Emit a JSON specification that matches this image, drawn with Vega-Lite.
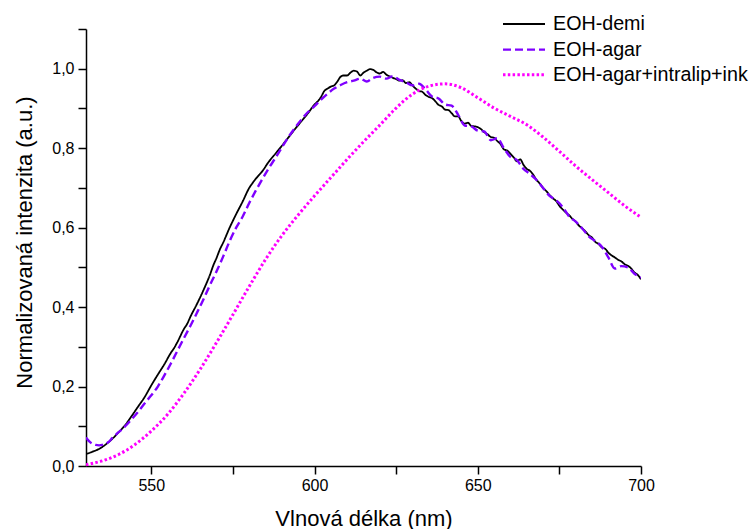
{
  "$schema": "https://vega.github.io/schema/vega-lite/v6.json",
  "autosize": "none",
  "padding": {"left": 86, "top": 29, "right": 113, "bottom": 63},
  "width": 555,
  "height": 437,
  "background": "white",
  "config": {
    "view": {"stroke": null},
    "font": "Liberation Sans",
    "axis": {"grid": false, "domainColor": "black", "domainWidth": 1.5, "tickColor": "black", "tickWidth": 1.5, "labelColor": "black", "titleColor": "black", "labelFont": "Liberation Sans", "titleFont": "Liberation Sans", "labelFontSize": 16, "titleFontSize": 22, "titleFontWeight": "normal"},
    "legend": {"orient": "none", "legendX": 426, "legendY": -16.5, "padding": 0, "labelFont": "Liberation Sans", "labelFontSize": 19.7, "labelColor": "black", "labelLimit": 0, "symbolType": "M-2,0H2", "symbolSize": 441, "labelOffset": 17, "rowPadding": 3.1}
  },
  "data": {"values": [
    {"series":"EOH-demi","wl":530,"val":0.030},{"series":"EOH-demi","wl":532,"val":0.036},{"series":"EOH-demi","wl":534,"val":0.043},{"series":"EOH-demi","wl":536,"val":0.054},{"series":"EOH-demi","wl":538,"val":0.068},{"series":"EOH-demi","wl":540,"val":0.085},{"series":"EOH-demi","wl":542,"val":0.103},{"series":"EOH-demi","wl":544,"val":0.126},{"series":"EOH-demi","wl":546,"val":0.150},{"series":"EOH-demi","wl":548,"val":0.174},{"series":"EOH-demi","wl":550,"val":0.203},{"series":"EOH-demi","wl":552,"val":0.230},{"series":"EOH-demi","wl":554,"val":0.256},{"series":"EOH-demi","wl":556,"val":0.285},{"series":"EOH-demi","wl":557,"val":0.297},{"series":"EOH-demi","wl":558,"val":0.312},{"series":"EOH-demi","wl":560,"val":0.345},{"series":"EOH-demi","wl":561,"val":0.358},{"series":"EOH-demi","wl":562,"val":0.376},{"series":"EOH-demi","wl":564,"val":0.408},{"series":"EOH-demi","wl":566,"val":0.443},{"series":"EOH-demi","wl":568,"val":0.482},{"series":"EOH-demi","wl":569,"val":0.505},{"series":"EOH-demi","wl":570,"val":0.524},{"series":"EOH-demi","wl":571,"val":0.545},{"series":"EOH-demi","wl":572,"val":0.562},{"series":"EOH-demi","wl":574,"val":0.600},{"series":"EOH-demi","wl":576,"val":0.634},{"series":"EOH-demi","wl":578,"val":0.666},{"series":"EOH-demi","wl":580,"val":0.700},{"series":"EOH-demi","wl":581,"val":0.712},{"series":"EOH-demi","wl":582,"val":0.723},{"series":"EOH-demi","wl":584,"val":0.742},{"series":"EOH-demi","wl":586,"val":0.766},{"series":"EOH-demi","wl":588,"val":0.786},{"series":"EOH-demi","wl":590,"val":0.806},{"series":"EOH-demi","wl":592,"val":0.827},{"series":"EOH-demi","wl":594,"val":0.848},{"series":"EOH-demi","wl":596,"val":0.868},{"series":"EOH-demi","wl":598,"val":0.888},{"series":"EOH-demi","wl":600,"val":0.910},{"series":"EOH-demi","wl":601,"val":0.918},{"series":"EOH-demi","wl":602,"val":0.929},{"series":"EOH-demi","wl":603,"val":0.944},{"series":"EOH-demi","wl":604,"val":0.950},{"series":"EOH-demi","wl":605,"val":0.955},{"series":"EOH-demi","wl":606,"val":0.958},{"series":"EOH-demi","wl":607,"val":0.968},{"series":"EOH-demi","wl":608,"val":0.980},{"series":"EOH-demi","wl":609,"val":0.983},{"series":"EOH-demi","wl":610,"val":0.983},{"series":"EOH-demi","wl":611,"val":0.990},{"series":"EOH-demi","wl":612,"val":0.995},{"series":"EOH-demi","wl":613,"val":0.993},{"series":"EOH-demi","wl":614,"val":0.983},{"series":"EOH-demi","wl":615,"val":0.990},{"series":"EOH-demi","wl":616,"val":0.995},{"series":"EOH-demi","wl":617,"val":0.999},{"series":"EOH-demi","wl":618,"val":0.997},{"series":"EOH-demi","wl":619,"val":0.991},{"series":"EOH-demi","wl":620,"val":0.988},{"series":"EOH-demi","wl":621,"val":0.992},{"series":"EOH-demi","wl":622,"val":0.985},{"series":"EOH-demi","wl":623,"val":0.981},{"series":"EOH-demi","wl":624,"val":0.977},{"series":"EOH-demi","wl":625,"val":0.974},{"series":"EOH-demi","wl":626,"val":0.970},{"series":"EOH-demi","wl":627,"val":0.971},{"series":"EOH-demi","wl":628,"val":0.964},{"series":"EOH-demi","wl":629,"val":0.966},{"series":"EOH-demi","wl":630,"val":0.958},{"series":"EOH-demi","wl":631,"val":0.950},{"series":"EOH-demi","wl":632,"val":0.944},{"series":"EOH-demi","wl":633,"val":0.942},{"series":"EOH-demi","wl":634,"val":0.934},{"series":"EOH-demi","wl":635,"val":0.929},{"series":"EOH-demi","wl":636,"val":0.926},{"series":"EOH-demi","wl":637,"val":0.918},{"series":"EOH-demi","wl":638,"val":0.909},{"series":"EOH-demi","wl":639,"val":0.905},{"series":"EOH-demi","wl":640,"val":0.897},{"series":"EOH-demi","wl":641,"val":0.896},{"series":"EOH-demi","wl":642,"val":0.888},{"series":"EOH-demi","wl":643,"val":0.880},{"series":"EOH-demi","wl":644,"val":0.880},{"series":"EOH-demi","wl":645,"val":0.868},{"series":"EOH-demi","wl":646,"val":0.862},{"series":"EOH-demi","wl":647,"val":0.864},{"series":"EOH-demi","wl":648,"val":0.856},{"series":"EOH-demi","wl":649,"val":0.855},{"series":"EOH-demi","wl":650,"val":0.853},{"series":"EOH-demi","wl":651,"val":0.848},{"series":"EOH-demi","wl":652,"val":0.840},{"series":"EOH-demi","wl":653,"val":0.835},{"series":"EOH-demi","wl":654,"val":0.828},{"series":"EOH-demi","wl":655,"val":0.826},{"series":"EOH-demi","wl":656,"val":0.818},{"series":"EOH-demi","wl":657,"val":0.810},{"series":"EOH-demi","wl":658,"val":0.797},{"series":"EOH-demi","wl":659,"val":0.794},{"series":"EOH-demi","wl":660,"val":0.786},{"series":"EOH-demi","wl":661,"val":0.777},{"series":"EOH-demi","wl":662,"val":0.767},{"series":"EOH-demi","wl":663,"val":0.772},{"series":"EOH-demi","wl":664,"val":0.758},{"series":"EOH-demi","wl":665,"val":0.748},{"series":"EOH-demi","wl":666,"val":0.743},{"series":"EOH-demi","wl":667,"val":0.733},{"series":"EOH-demi","wl":668,"val":0.720},{"series":"EOH-demi","wl":669,"val":0.711},{"series":"EOH-demi","wl":670,"val":0.700},{"series":"EOH-demi","wl":671,"val":0.692},{"series":"EOH-demi","wl":672,"val":0.682},{"series":"EOH-demi","wl":673,"val":0.674},{"series":"EOH-demi","wl":674,"val":0.667},{"series":"EOH-demi","wl":675,"val":0.655},{"series":"EOH-demi","wl":676,"val":0.646},{"series":"EOH-demi","wl":677,"val":0.638},{"series":"EOH-demi","wl":678,"val":0.631},{"series":"EOH-demi","wl":679,"val":0.622},{"series":"EOH-demi","wl":680,"val":0.615},{"series":"EOH-demi","wl":681,"val":0.605},{"series":"EOH-demi","wl":682,"val":0.598},{"series":"EOH-demi","wl":683,"val":0.590},{"series":"EOH-demi","wl":684,"val":0.581},{"series":"EOH-demi","wl":685,"val":0.575},{"series":"EOH-demi","wl":686,"val":0.564},{"series":"EOH-demi","wl":687,"val":0.559},{"series":"EOH-demi","wl":688,"val":0.550},{"series":"EOH-demi","wl":689,"val":0.547},{"series":"EOH-demi","wl":690,"val":0.537},{"series":"EOH-demi","wl":691,"val":0.530},{"series":"EOH-demi","wl":692,"val":0.525},{"series":"EOH-demi","wl":693,"val":0.519},{"series":"EOH-demi","wl":694,"val":0.515},{"series":"EOH-demi","wl":695,"val":0.508},{"series":"EOH-demi","wl":696,"val":0.504},{"series":"EOH-demi","wl":697,"val":0.497},{"series":"EOH-demi","wl":698,"val":0.487},{"series":"EOH-demi","wl":699,"val":0.481},{"series":"EOH-demi","wl":700,"val":0.470},
    {"series":"EOH-agar","wl":530,"val":0.072},{"series":"EOH-agar","wl":531,"val":0.062},{"series":"EOH-agar","wl":532,"val":0.056},{"series":"EOH-agar","wl":533,"val":0.053},{"series":"EOH-agar","wl":534,"val":0.052},{"series":"EOH-agar","wl":535,"val":0.053},{"series":"EOH-agar","wl":536,"val":0.056},{"series":"EOH-agar","wl":537,"val":0.061},{"series":"EOH-agar","wl":538,"val":0.070},{"series":"EOH-agar","wl":540,"val":0.085},{"series":"EOH-agar","wl":542,"val":0.100},{"series":"EOH-agar","wl":544,"val":0.118},{"series":"EOH-agar","wl":546,"val":0.137},{"series":"EOH-agar","wl":548,"val":0.158},{"series":"EOH-agar","wl":550,"val":0.178},{"series":"EOH-agar","wl":552,"val":0.200},{"series":"EOH-agar","wl":554,"val":0.228},{"series":"EOH-agar","wl":556,"val":0.258},{"series":"EOH-agar","wl":558,"val":0.290},{"series":"EOH-agar","wl":560,"val":0.322},{"series":"EOH-agar","wl":562,"val":0.353},{"series":"EOH-agar","wl":564,"val":0.386},{"series":"EOH-agar","wl":566,"val":0.420},{"series":"EOH-agar","wl":568,"val":0.456},{"series":"EOH-agar","wl":570,"val":0.490},{"series":"EOH-agar","wl":572,"val":0.527},{"series":"EOH-agar","wl":574,"val":0.566},{"series":"EOH-agar","wl":576,"val":0.600},{"series":"EOH-agar","wl":578,"val":0.628},{"series":"EOH-agar","wl":580,"val":0.662},{"series":"EOH-agar","wl":582,"val":0.693},{"series":"EOH-agar","wl":584,"val":0.722},{"series":"EOH-agar","wl":586,"val":0.750},{"series":"EOH-agar","wl":588,"val":0.775},{"series":"EOH-agar","wl":590,"val":0.802},{"series":"EOH-agar","wl":592,"val":0.828},{"series":"EOH-agar","wl":594,"val":0.851},{"series":"EOH-agar","wl":596,"val":0.872},{"series":"EOH-agar","wl":598,"val":0.891},{"series":"EOH-agar","wl":600,"val":0.906},{"series":"EOH-agar","wl":602,"val":0.922},{"series":"EOH-agar","wl":604,"val":0.937},{"series":"EOH-agar","wl":606,"val":0.950},{"series":"EOH-agar","wl":608,"val":0.959},{"series":"EOH-agar","wl":610,"val":0.966},{"series":"EOH-agar","wl":612,"val":0.970},{"series":"EOH-agar","wl":614,"val":0.975},{"series":"EOH-agar","wl":616,"val":0.968},{"series":"EOH-agar","wl":618,"val":0.977},{"series":"EOH-agar","wl":620,"val":0.980},{"series":"EOH-agar","wl":622,"val":0.975},{"series":"EOH-agar","wl":624,"val":0.981},{"series":"EOH-agar","wl":626,"val":0.972},{"series":"EOH-agar","wl":628,"val":0.966},{"series":"EOH-agar","wl":630,"val":0.958},{"series":"EOH-agar","wl":632,"val":0.962},{"series":"EOH-agar","wl":634,"val":0.948},{"series":"EOH-agar","wl":636,"val":0.930},{"series":"EOH-agar","wl":638,"val":0.925},{"series":"EOH-agar","wl":640,"val":0.910},{"series":"EOH-agar","wl":642,"val":0.907},{"series":"EOH-agar","wl":644,"val":0.884},{"series":"EOH-agar","wl":646,"val":0.857},{"series":"EOH-agar","wl":648,"val":0.855},{"series":"EOH-agar","wl":650,"val":0.844},{"series":"EOH-agar","wl":652,"val":0.842},{"series":"EOH-agar","wl":654,"val":0.820},{"series":"EOH-agar","wl":656,"val":0.825},{"series":"EOH-agar","wl":658,"val":0.800},{"series":"EOH-agar","wl":660,"val":0.778},{"series":"EOH-agar","wl":662,"val":0.770},{"series":"EOH-agar","wl":664,"val":0.748},{"series":"EOH-agar","wl":666,"val":0.735},{"series":"EOH-agar","wl":668,"val":0.720},{"series":"EOH-agar","wl":670,"val":0.700},{"series":"EOH-agar","wl":672,"val":0.680},{"series":"EOH-agar","wl":674,"val":0.669},{"series":"EOH-agar","wl":676,"val":0.652},{"series":"EOH-agar","wl":678,"val":0.628},{"series":"EOH-agar","wl":680,"val":0.615},{"series":"EOH-agar","wl":682,"val":0.598},{"series":"EOH-agar","wl":684,"val":0.578},{"series":"EOH-agar","wl":686,"val":0.566},{"series":"EOH-agar","wl":688,"val":0.552},{"series":"EOH-agar","wl":690,"val":0.525},{"series":"EOH-agar","wl":692,"val":0.497},{"series":"EOH-agar","wl":694,"val":0.503},{"series":"EOH-agar","wl":696,"val":0.500},{"series":"EOH-agar","wl":698,"val":0.484},{"series":"EOH-agar","wl":700,"val":0.474},
    {"series":"EOH-agar+intralip+ink","wl":530,"val":0.003},{"series":"EOH-agar+intralip+ink","wl":535,"val":0.013},{"series":"EOH-agar+intralip+ink","wl":540,"val":0.029},{"series":"EOH-agar+intralip+ink","wl":545,"val":0.054},{"series":"EOH-agar+intralip+ink","wl":550,"val":0.088},{"series":"EOH-agar+intralip+ink","wl":555,"val":0.130},{"series":"EOH-agar+intralip+ink","wl":560,"val":0.183},{"series":"EOH-agar+intralip+ink","wl":565,"val":0.244},{"series":"EOH-agar+intralip+ink","wl":570,"val":0.311},{"series":"EOH-agar+intralip+ink","wl":575,"val":0.381},{"series":"EOH-agar+intralip+ink","wl":580,"val":0.452},{"series":"EOH-agar+intralip+ink","wl":585,"val":0.520},{"series":"EOH-agar+intralip+ink","wl":590,"val":0.580},{"series":"EOH-agar+intralip+ink","wl":595,"val":0.632},{"series":"EOH-agar+intralip+ink","wl":600,"val":0.680},{"series":"EOH-agar+intralip+ink","wl":605,"val":0.726},{"series":"EOH-agar+intralip+ink","wl":610,"val":0.772},{"series":"EOH-agar+intralip+ink","wl":615,"val":0.816},{"series":"EOH-agar+intralip+ink","wl":620,"val":0.858},{"series":"EOH-agar+intralip+ink","wl":625,"val":0.901},{"series":"EOH-agar+intralip+ink","wl":630,"val":0.936},{"series":"EOH-agar+intralip+ink","wl":635,"val":0.956},{"series":"EOH-agar+intralip+ink","wl":640,"val":0.962},{"series":"EOH-agar+intralip+ink","wl":645,"val":0.952},{"series":"EOH-agar+intralip+ink","wl":650,"val":0.927},{"series":"EOH-agar+intralip+ink","wl":655,"val":0.901},{"series":"EOH-agar+intralip+ink","wl":660,"val":0.880},{"series":"EOH-agar+intralip+ink","wl":665,"val":0.859},{"series":"EOH-agar+intralip+ink","wl":670,"val":0.828},{"series":"EOH-agar+intralip+ink","wl":675,"val":0.792},{"series":"EOH-agar+intralip+ink","wl":680,"val":0.755},{"series":"EOH-agar+intralip+ink","wl":685,"val":0.721},{"series":"EOH-agar+intralip+ink","wl":690,"val":0.688},{"series":"EOH-agar+intralip+ink","wl":695,"val":0.655},{"series":"EOH-agar+intralip+ink","wl":700,"val":0.626}
  ]},
  "mark": {"type": "line", "interpolate": "monotone", "clip": true},
  "encoding": {
    "x": {
      "field": "wl", "type": "quantitative",
      "scale": {"domain": [530, 700], "nice": false, "zero": false},
      "axis": {
        "title": "Vlnová délka (nm)",
        "values": [550, 575, 600, 625, 650, 675, 700],
        "labelExpr": "datum.value % 50 == 0 ? datum.label : ''",
        "tickSize": 8, "labelPadding": 3, "labelFlush": false, "labelOverlap": false,
        "titleY": 59, "titleBaseline": "alphabetic",
        "encode": {"ticks": {"enter": {"y2": [{"test": "datum.value % 50 != 0", "value": 5}, {"value": 8}]}, "update": {"y2": [{"test": "datum.value % 50 != 0", "value": 5}, {"value": 8}]}}}
      }
    },
    "y": {
      "field": "val", "type": "quantitative",
      "scale": {"domain": [0, 1.1], "nice": false},
      "axis": {
        "title": "Normalizovaná intenzita (a.u.)",
        "values": [0, 0.1, 0.2, 0.3, 0.4, 0.5, 0.6, 0.7, 0.8, 0.9, 1.0, 1.1],
        "labelExpr": "round(datum.value * 10) % 2 == 0 ? replace(format(datum.value, '.1f'), '.', ',') : ''",
        "tickSize": 8, "labelPadding": 4, "labelFlush": false, "labelOverlap": false,
        "titleX": -62, "titleY": 213, "titleBaseline": "middle", "titleAlign": "center", "titleAngle": 270,
        "encode": {"ticks": {"enter": {"x2": [{"test": "round(datum.value * 10) % 2 != 0", "value": -5}, {"value": -8}]}, "update": {"x2": [{"test": "round(datum.value * 10) % 2 != 0", "value": -5}, {"value": -8}]}}}
      }
    },
    "color": {
      "field": "series", "type": "nominal",
      "scale": {"domain": ["EOH-demi", "EOH-agar", "EOH-agar+intralip+ink"], "range": ["#000000", "#7f00ff", "#ff00ff"]},
      "legend": {"title": null}
    },
    "strokeDash": {
      "field": "series", "type": "nominal",
      "scale": {"domain": ["EOH-demi", "EOH-agar", "EOH-agar+intralip+ink"], "range": [[1, 0], [8, 4], [2.5, 2.3]]},
      "legend": {"title": null}
    },
    "strokeWidth": {
      "field": "series", "type": "nominal",
      "scale": {"domain": ["EOH-demi", "EOH-agar", "EOH-agar+intralip+ink"], "range": [1.8, 3, 2.5]},
      "legend": {"title": null}
    }
  }
}
